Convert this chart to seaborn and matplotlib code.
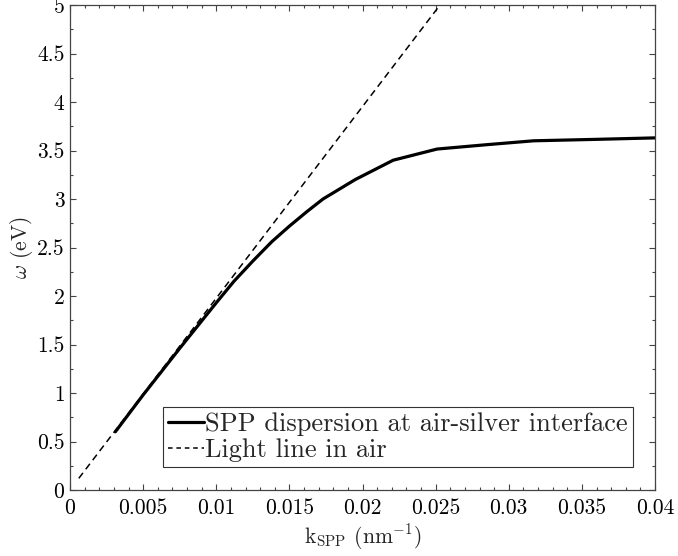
import matplotlib
matplotlib.use("Agg")
import matplotlib.pyplot as plt
import seaborn as sns
import pandas as pd
from matplotlib.ticker import MultipleLocator

# ---- data ----
k_spp = [0.0031, 0.0050, 0.0075, 0.0100, 0.0112, 0.0125, 0.0138, 0.0150,
         0.0162, 0.0173, 0.0195, 0.0221, 0.0251, 0.0285, 0.0317, 0.0360, 0.0400]
w_spp = [0.60, 0.98, 1.46, 1.93, 2.15, 2.36, 2.56, 2.72,
         2.87, 3.00, 3.20, 3.40, 3.515, 3.56, 3.60, 3.615, 3.63]

k_light = [0.0006, 0.0253]
w_light = [0.12, 5.00]

x_ticks = [0, 0.005, 0.01, 0.015, 0.02, 0.025, 0.03, 0.035, 0.04]
x_ticklabels = ["0", "0.005", "0.01", "0.015", "0.02", "0.025", "0.03", "0.035", "0.04"]
y_ticks = [0, 0.5, 1, 1.5, 2, 2.5, 3, 3.5, 4, 4.5, 5]
y_ticklabels = ["0", "0.5", "1", "1.5", "2", "2.5", "3", "3.5", "4", "4.5", "5"]

spp_label = "SPP dispersion at air-silver interface"
light_label = "Light line in air"

sns.set_style("ticks")
plt.rcParams["font.family"] = ["cmr10", "DejaVu Serif"]
plt.rcParams["mathtext.fontset"] = "cm"
plt.rcParams["axes.formatter.use_mathtext"] = True

fig = plt.figure(figsize=(6.78, 5.56), dpi=100)
ax = fig.add_axes([70 / 678, 1 - 490 / 556, 585 / 678, 485 / 556])

df_spp = pd.DataFrame({"k": k_spp, "w": w_spp})
df_light = pd.DataFrame({"k": k_light, "w": w_light})

sns.lineplot(data=df_spp, x="k", y="w", ax=ax, color="black", lw=2.3,
             sort=False, estimator=None, label=spp_label)
sns.lineplot(data=df_light, x="k", y="w", ax=ax, color="black", lw=1.1,
             sort=False, estimator=None, label=light_label,
             dashes=False)
ax.lines[1].set_dashes([4.5, 3])

ax.set_xlim(0, 0.04)
ax.set_ylim(0, 5)
ax.set_xticks(x_ticks)
ax.set_xticklabels(x_ticklabels)
ax.set_yticks(y_ticks)
ax.set_yticklabels(y_ticklabels)
ax.xaxis.set_minor_locator(MultipleLocator(0.001))
ax.yaxis.set_minor_locator(MultipleLocator(0.25))

ax.tick_params(which="both", direction="in", top=True, right=True,
               colors="#444444", labelcolor="black", labelsize=15.5)
ax.tick_params(which="major", length=4, width=0.8)
ax.tick_params(which="minor", length=2.2, width=0.8)
ax.tick_params(axis="y", pad=4)
ax.tick_params(axis="x", pad=6)
for s in ax.spines.values():
    s.set_visible(True)
    s.set_color("#444444")
    s.set_linewidth(0.9)

ax.set_xlabel(r"k$_{\mathrm{SPP}}$ (nm$^{\mathrm{-1}}$)", fontsize=15.5, labelpad=3)
ax.set_ylabel(r"$\omega$ (eV)", fontsize=15.5, labelpad=1)

leg = ax.legend(loc="lower right", bbox_to_anchor=(0.962, 0.047),
                borderaxespad=0, fancybox=False, framealpha=1,
                edgecolor="#333333", fontsize=19, handlelength=1.35,
                handletextpad=0.05, borderpad=0.2, labelspacing=0.08)
leg.get_frame().set_linewidth(0.8)
leg.get_lines()[1].set_dashes([3, 2.5])

fig.savefig("out.png", dpi=100)
